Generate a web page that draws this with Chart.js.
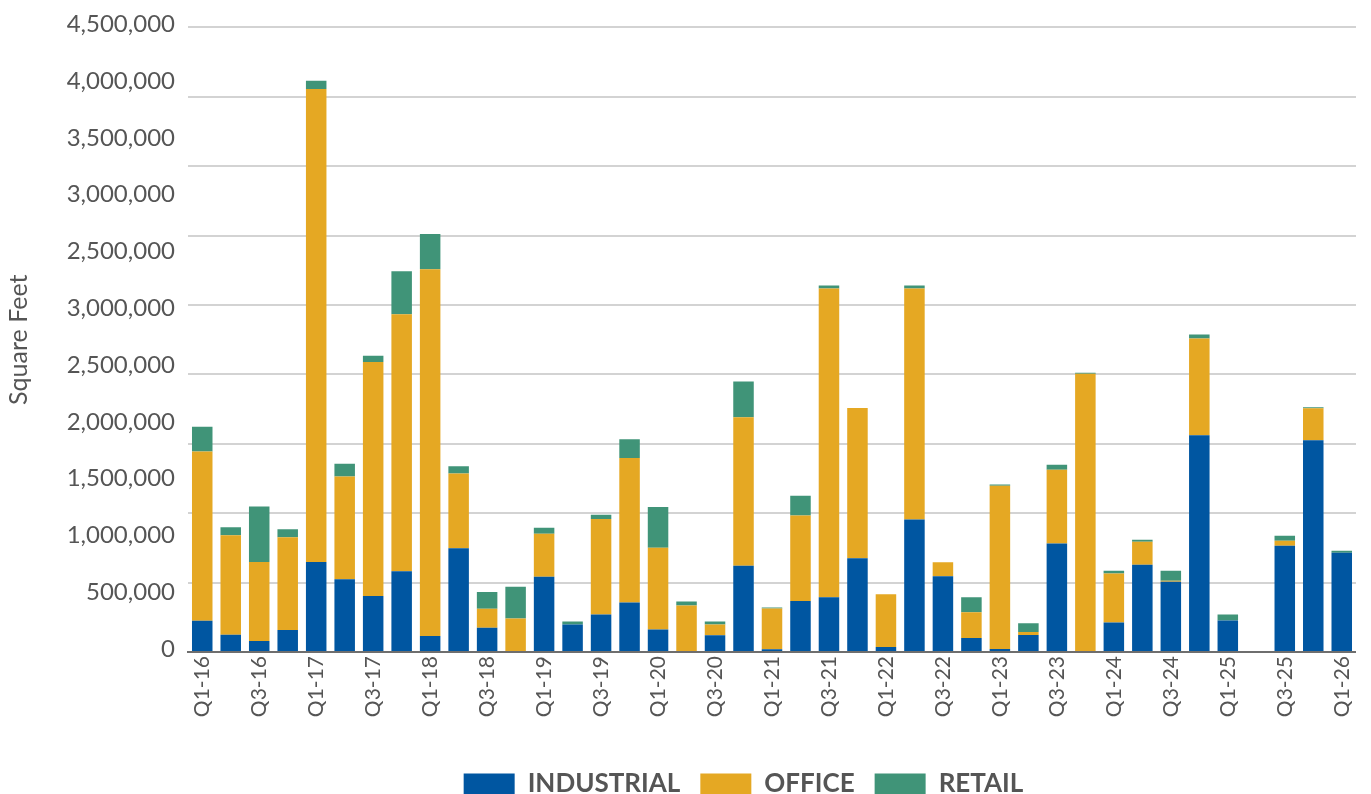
<!DOCTYPE html>
<html>
<head>
<meta charset="utf-8">
<script src="https://cdn.jsdelivr.net/npm/chart.js@4/dist/chart.umd.min.js"></script>
<style>
html,body{margin:0;padding:0;background:#fff;overflow:hidden}
#wrap{width:1371px;height:794px;position:relative}
</style>
</head>
<body>
<div id="wrap"><canvas id="c" width="1371" height="794"></canvas></div>
<script>
const categories = ['Q1-16','Q2-16','Q3-16','Q4-16','Q1-17','Q2-17','Q3-17','Q4-17','Q1-18','Q2-18','Q3-18','Q4-18',
  'Q1-19','Q2-19','Q3-19','Q4-19','Q1-20','Q2-20','Q3-20','Q4-20','Q1-21','Q2-21','Q3-21','Q4-21',
  'Q1-22','Q2-22','Q3-22','Q4-22','Q1-23','Q2-23','Q3-23','Q4-23','Q1-24','Q2-24','Q3-24','Q4-24',
  'Q1-25','Q2-25','Q3-25','Q4-25','Q1-26'];

const industrial = [225000,124000,80000,159000,648000,525000,404000,582000,115000,747000,175000,0,
  543000,199000,270000,356000,163000,0,120000,622000,19000,368000,395000,675000,
  36000,954000,545000,100000,22000,122000,782000,0,213000,629000,507000,1562000,
  227000,0,765000,1526000,715000];

const office = [1220000,717000,568000,668000,3409000,739000,1686000,1852000,2643000,539000,137000,242000,
  309000,0,689000,1041000,588000,335000,79000,1069000,294000,615000,2224000,1083000,
  380000,1665000,101000,187000,1176000,22000,531000,2004000,352000,165000,7000,696000,
  0,0,36000,230000,0];

const retail = [178000,57000,401000,58000,58000,93000,44000,310000,253000,52000,121000,229000,
  43000,21000,29000,136000,294000,29000,21000,258000,8000,143000,22000,0,
  0,22000,0,108000,8000,64000,36000,7000,21000,14000,72000,29000,
  43000,0,36000,7000,15000];

// y-axis tick labels as printed on the reference, bottom to top
const yTickLabels = ['0','500,000','1,000,000','1,500,000','2,000,000','2,500,000',
  '3,000,000','2,500,000','3,000,000','3,500,000','4,000,000','4,500,000'];

const seriesNames = ['INDUSTRIAL','OFFICE','RETAIL'];
const seriesColors = ['#0056A1','#E5A823','#409478'];

Chart.defaults.font.family = 'Lato';

const legendShift = {
  id: 'legendShift',
  afterLayout(chart) {
    const l = chart.legend;
    if (!l) return;
    l.left += 60; l.right += 60;
    l.top += 13; l.bottom += 13;
  }
};

new Chart(document.getElementById('c'), {
  type: 'bar',
  data: {
    labels: categories,
    datasets: [industrial, office, retail].map((d, i) => ({
      label: seriesNames[i],
      data: d,
      backgroundColor: seriesColors[i],
      borderWidth: 0,
      categoryPercentage: 0.72,
      barPercentage: 1.0
    }))
  },
  options: {
    responsive: false,
    animation: false,
    devicePixelRatio: 1,
    layout: { padding: { top: 24, right: 4, left: 0, bottom: 0 } },
    plugins: {
      tooltip: { enabled: false },
      legend: {
        position: 'bottom',
        labels: {
          boxWidth: 51, boxHeight: 21, padding: 20,
          color: '#555555',
          font: { family: 'Lato', size: 26, weight: 'bold' }
        }
      }
    },
    scales: {
      x: {
        stacked: true,
        z: 1,
        grid: { display: false, drawTicks: false },
        border: { display: true, color: '#6e6e6e', width: 2 },
        ticks: {
          autoSkip: false, maxRotation: 90, minRotation: 90, padding: 4,
          color: '#555555', font: { family: 'Lato', size: 21 },
          callback: function (v, i) { return i % 2 === 0 ? this.getLabelForValue(v) : ''; }
        },
        afterFit: s => { s.height = 86; }
      },
      y: {
        stacked: true, min: 0, max: 4500000,
        position: 'left',
        ticks: { display: false, stepSize: 500000 },
        grid: { color: '#d3d3d3', lineWidth: 2, drawTicks: false },
        border: { display: false },
        afterFit: s => { s.width = 0; }
      },
      yl: {
        type: 'linear', position: 'left', min: 0, max: 11,
        grid: { display: false, drawTicks: false },
        border: { display: false },
        afterBuildTicks: s => { s.ticks = yTickLabels.map((_, i) => ({ value: i })); },
        ticks: {
          autoSkip: false, padding: 13, labelOffset: -3,
          color: '#555555', font: { family: 'Lato', size: 24 },
          callback: v => yTickLabels[v]
        },
        title: {
          display: true, text: 'Square Feet', color: '#555555',
          font: { family: 'Lato', size: 25, weight: 'normal' },
          padding: { top: 4, bottom: 0 }
        },
        afterFit: s => { s.width = 188; }
      }
    }
  },
  plugins: [legendShift]
});
</script>
</body>
</html>
